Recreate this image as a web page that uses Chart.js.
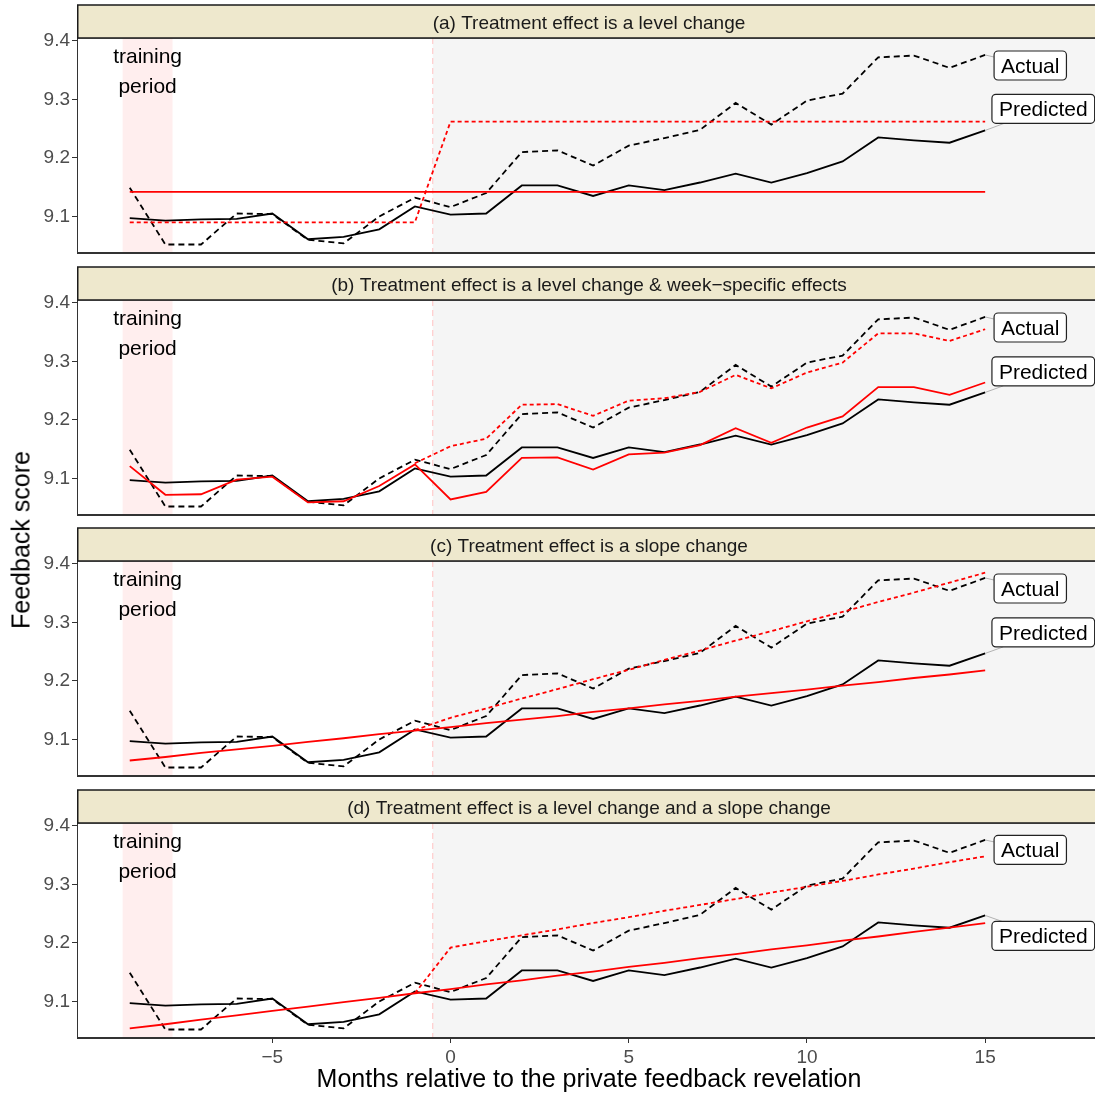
<!DOCTYPE html>
<html>
<head>
<meta charset="utf-8">
<script src="https://cdn.jsdelivr.net/npm/chart.js@4.4.1/dist/chart.umd.min.js"></script>
<style>
  body { margin: 0; background: #fff; }
  #wrap { position: relative; width: 1095px; height: 1095px; overflow: hidden; font-family: "Liberation Sans", Arial, sans-serif; }
  #wrap canvas { position: absolute; left: 0; }
  #ytitle { position: absolute; left: 21px; top: 540px; transform: translate(-50%, -50%) rotate(-90deg); font-size: 25px; white-space: nowrap; color: #000; }
</style>
</head>
<body>
<div id="wrap">
  <canvas id="panelA" width="1102" height="250" style="top:4px"></canvas>
  <canvas id="panelB" width="1102" height="250" style="top:266px"></canvas>
  <canvas id="panelC" width="1102" height="250" style="top:527px"></canvas>
  <canvas id="panelD" width="1102" height="306" style="top:789px"></canvas>
  <div id="ytitle">Feedback score</div>
</div>
<script>
// months relative to the private feedback revelation
const months = [-9, -8, -7, -6, -5, -4, -3, -2, -1, 0, 1, 2, 3, 4, 5, 6, 7, 8, 9, 10, 11, 12, 13, 14, 15];

// observed series (same in every panel)
const actualDashed = [9.149, 9.052, 9.052, 9.105, 9.104, 9.060, 9.054, 9.100, 9.132, 9.116, 9.140, 9.210, 9.213,
                      9.187, 9.221, 9.234, 9.248, 9.294, 9.257, 9.298, 9.310, 9.372, 9.375, 9.354, 9.376];
const actualSolid = [9.097, 9.093, 9.095, 9.096, 9.105, 9.061, 9.065, 9.078, 9.117, 9.103, 9.105, 9.153, 9.153,
                     9.135, 9.153, 9.145, 9.158, 9.173, 9.158, 9.174, 9.194, 9.235, 9.230, 9.226, 9.247];

// (a) level change
const predSolidA = [9.142, 9.142, 9.142, 9.142, 9.142, 9.142, 9.142, 9.142, 9.142, 9.142, 9.142, 9.142, 9.142,
                    9.142, 9.142, 9.142, 9.142, 9.142, 9.142, 9.142, 9.142, 9.142, 9.142, 9.142, 9.142];
const predDashedA = [9.090, 9.090, 9.090, 9.090, 9.090, 9.090, 9.090, 9.090, 9.090, 9.262, 9.262, 9.262, 9.262,
                     9.262, 9.262, 9.262, 9.262, 9.262, 9.262, 9.262, 9.262, 9.262, 9.262, 9.262, 9.262];

// (b) level change & week-specific effects
const predSolidB = [9.121, 9.072, 9.073, 9.098, 9.103, 9.059, 9.061, 9.087, 9.124, 9.064, 9.077, 9.135, 9.136,
                    9.115, 9.141, 9.144, 9.157, 9.186, 9.161, 9.187, 9.206, 9.256, 9.256, 9.243, 9.264];
const predDashedB = [null, null, null, null, null, null, null, null, 9.126, 9.155, 9.168, 9.226, 9.227,
                     9.207, 9.233, 9.237, 9.248, 9.277, 9.254, 9.281, 9.298, 9.348, 9.348, 9.335, 9.355];

// (c) slope change
const predSolidC = [9.064, 9.070, 9.077, 9.083, 9.089, 9.096, 9.102, 9.109, 9.115, 9.121, 9.128, 9.134, 9.140,
                    9.147, 9.153, 9.160, 9.166, 9.173, 9.179, 9.185, 9.192, 9.198, 9.205, 9.211, 9.218];
const predDashedC = [null, null, null, null, null, null, null, null, 9.116, 9.137, 9.153, 9.170, 9.186,
                     9.203, 9.219, 9.236, 9.252, 9.269, 9.285, 9.302, 9.318, 9.335, 9.351, 9.368, 9.385];

// (d) level change and slope change
const predSolidD = [9.054, 9.061, 9.069, 9.076, 9.084, 9.091, 9.099, 9.106, 9.114, 9.121, 9.129, 9.136, 9.144,
                    9.151, 9.159, 9.166, 9.174, 9.181, 9.189, 9.196, 9.204, 9.211, 9.219, 9.226, 9.234];
const predDashedD = [null, null, null, null, null, null, null, null, 9.114, 9.192, 9.203, 9.213, 9.223,
                     9.234, 9.244, 9.255, 9.265, 9.275, 9.286, 9.296, 9.306, 9.317, 9.327, 9.338, 9.348];

const panelTitles = [
    '(a) Treatment effect is a level change',
    '(b) Treatment effect is a level change & week\u2212specific effects',
    '(c) Treatment effect is a slope change',
    '(d) Treatment effect is a level change and a slope change'
];
const yTicks = [9.1, 9.2, 9.3, 9.4];
const xTicks = [-5, 0, 5, 10, 15];

const FONT = '"Liberation Sans", Arial, sans-serif';
const TRAIN_FROM = -9.2, TRAIN_TO = -7.8, CUTOFF = -0.5;
const X_MIN = -10.48, X_MAX = 18.25, Y_MIN = 9.0375, Y_MAX = 9.405;

Chart.defaults.font.family = FONT;

function drawTag(ctx, text, left, cy, px, py) {
    ctx.font = '21px ' + FONT;
    const w = ctx.measureText(text).width + 14;
    const h = 29;
    const top = cy - h / 2;
    const cx = left + w / 2;
    // grey leader from the line end toward the box centre
    const dx = cx - px, dy = cy - py;
    let t = 0;
    if (dx !== 0) t = Math.max(t, ((dx > 0 ? left : left + w) - px) / dx);
    if (dy !== 0) t = Math.max(t, ((dy > 0 ? top : top + h) - py) / dy);
    if (t > 0 && t < 1) {
        ctx.strokeStyle = '#b3b3b3';
        ctx.lineWidth = 1;
        ctx.beginPath();
        ctx.moveTo(px, py);
        ctx.lineTo(px + dx * t, py + dy * t);
        ctx.stroke();
    }
    ctx.fillStyle = '#fff';
    ctx.strokeStyle = '#222';
    ctx.lineWidth = 1.2;
    ctx.beginPath();
    ctx.roundRect(left, top, w, h, 4);
    ctx.fill();
    ctx.stroke();
    ctx.fillStyle = '#000';
    ctx.textAlign = 'left';
    ctx.textBaseline = 'alphabetic';
    ctx.fillText(text, left + 7, cy + 7.5);
}

const decor = {
    id: 'decor',
    beforeDatasetsDraw(chart) {
        const {ctx, chartArea: a, scales: {x}} = chart;
        const xc = x.getPixelForValue(CUTOFF);
        const x1 = x.getPixelForValue(TRAIN_FROM);
        const x2 = x.getPixelForValue(TRAIN_TO);
        ctx.save();
        ctx.fillStyle = '#f5f5f5';
        ctx.fillRect(xc, a.top, a.right - xc, a.bottom - a.top);
        ctx.fillStyle = '#ffeeee';
        ctx.fillRect(x1, a.top, x2 - x1, a.bottom - a.top);
        ctx.strokeStyle = '#ffcccc';
        ctx.lineWidth = 1.2;
        ctx.setLineDash([6, 4]);
        ctx.beginPath();
        ctx.moveTo(xc, a.top);
        ctx.lineTo(xc, a.bottom);
        ctx.stroke();
        ctx.restore();
    },
    afterDatasetsDraw(chart, args, opts) {
        const {ctx, chartArea: a, scales: {x, y}} = chart;
        ctx.save();
        // panel border
        ctx.strokeStyle = '#333';
        ctx.lineWidth = 1;
        ctx.strokeRect(a.left + 0.5, a.top, a.right - a.left + 10, a.bottom - a.top);
        ctx.lineWidth = 2;
        ctx.beginPath();
        ctx.moveTo(a.left, a.bottom);
        ctx.lineTo(a.right + 5, a.bottom);
        ctx.stroke();

        // strip header
        ctx.fillStyle = '#eee8cd';
        ctx.fillRect(a.left, 1, a.right - a.left + 10, a.top - 1);
        ctx.strokeStyle = '#1a1a1a';
        ctx.lineWidth = 1.5;
        ctx.strokeRect(a.left + 0.75, 1, a.right - a.left + 10, a.top - 1);
        ctx.fillStyle = '#1a1a1a';
        ctx.font = '19px ' + FONT;
        ctx.textAlign = 'center';
        ctx.textBaseline = 'alphabetic';
        ctx.fillText(opts.title, (a.left + a.right) / 2, 25);

        // training period note
        ctx.fillStyle = '#000';
        ctx.font = '21px ' + FONT;
        const tx = x.getPixelForValue(-8.5);
        ctx.fillText('training', tx, a.top + 25);
        ctx.fillText('period', tx, a.top + 55);

        // end labels
        const endX = x.getPixelForValue(months[months.length - 1]);
        drawTag(ctx, 'Actual', x.getPixelForValue(opts.actualTag.x), y.getPixelForValue(opts.actualTag.y),
            endX, y.getPixelForValue(actualDashed[actualDashed.length - 1]));
        drawTag(ctx, 'Predicted', x.getPixelForValue(opts.predTag.x), y.getPixelForValue(opts.predTag.y),
            endX, y.getPixelForValue(actualSolid[actualSolid.length - 1]));
        ctx.restore();
    }
};

function toPoints(values) {
    return months.map((m, i) => ({x: m, y: values[i]})).filter(p => p.y !== null);
}

function makePanel(canvasId, title, predSolid, predDashed, actualTag, predTag, isBottom) {
    // first listed is drawn on top
    const datasets = [
        {data: toPoints(predSolid), borderColor: '#ff0000', borderDash: []},
        {data: toPoints(predDashed), borderColor: '#ff0000', borderDash: [4, 3]},
        {data: toPoints(actualSolid), borderColor: '#000000', borderDash: []},
        {data: toPoints(actualDashed), borderColor: '#000000', borderDash: [6, 4]}
    ].map(d => Object.assign(d, {borderWidth: 1.8, pointRadius: 0, tension: 0, fill: false}));

    const xScale = {
        type: 'linear', min: X_MIN, max: X_MAX, display: isBottom,
        afterBuildTicks: s => { s.ticks = xTicks.map(v => ({value: v})); },
        afterFit: s => {
            if (isBottom) s.height = 57;
            s.paddingLeft = 0;
            s.paddingRight = 0;
        },
        ticks: {
            color: '#4d4d4d', font: {size: 19}, padding: 3, maxRotation: 0, autoSkip: false,
            callback: v => v < 0 ? '\u2212' + Math.abs(v) : String(v)
        },
        grid: {drawOnChartArea: false, color: '#333', tickLength: 5},
        border: {display: false},
        title: {
            display: isBottom, text: 'Months relative to the private feedback revelation',
            color: '#000', font: {size: 25}, padding: {top: 0, bottom: 0}
        }
    };

    new Chart(document.getElementById(canvasId), {
        type: 'line',
        data: {datasets: datasets},
        options: {
            responsive: false,
            animation: false,
            events: [],
            layout: {padding: {top: 34, right: 1, bottom: isBottom ? 0 : 1, left: 0}},
            plugins: {
                legend: {display: false},
                tooltip: {enabled: false},
                decor: {title: title, actualTag: actualTag, predTag: predTag}
            },
            scales: {
                x: xScale,
                y: {
                    min: Y_MIN, max: Y_MAX,
                    afterFit: s => {
                        s.width = 77;
                        s.paddingTop = 0;
                        s.paddingBottom = 0;
                    },
                    afterBuildTicks: s => { s.ticks = yTicks.map(v => ({value: v})); },
                    ticks: {color: '#4d4d4d', font: {size: 19}, padding: 2, callback: v => v.toFixed(1)},
                    grid: {drawOnChartArea: false, color: '#333', tickLength: 5},
                    border: {display: false}
                }
            }
        },
        plugins: [decor]
    });
}

makePanel('panelA', panelTitles[0], predSolidA, predDashedA, {x: 15.25, y: 9.358}, {x: 15.19, y: 9.284}, false);
makePanel('panelB', panelTitles[1], predSolidB, predDashedB, {x: 15.25, y: 9.358}, {x: 15.19, y: 9.283}, false);
makePanel('panelC', panelTitles[2], predSolidC, predDashedC, {x: 15.25, y: 9.358}, {x: 15.19, y: 9.283}, false);
makePanel('panelD', panelTitles[3], predSolidD, predDashedD, {x: 15.25, y: 9.359}, {x: 15.19, y: 9.212}, true);
</script>
</body>
</html>
